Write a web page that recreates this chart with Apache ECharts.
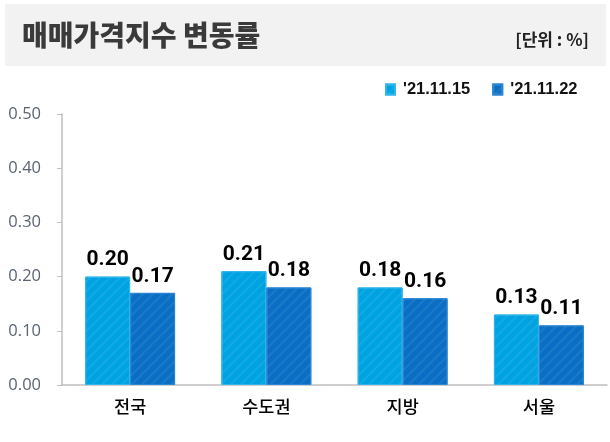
<!DOCTYPE html>
<html><head><meta charset="utf-8">
<script src="https://cdn.jsdelivr.net/npm/echarts@6/dist/echarts.min.js"></script>
<style>html,body{margin:0;padding:0;background:#fff}#c{width:610px;height:442px}</style>
</head><body><div id="c"></div>
<script>
const categories = ['전국', '수도권', '지방', '서울'];
const seriesNames = ["'21.11.15", "'21.11.22"];
const week1 = [0.20, 0.21, 0.18, 0.13];
const week2 = [0.17, 0.18, 0.16, 0.11];
const yTicks = [0, 0.1, 0.2, 0.3, 0.4, 0.5];

const chart = echarts.init(document.getElementById('c'));
const decal = {symbol: 'rect', symbolSize: 1, dashArrayX: [1, 0], dashArrayY: [2, 5], rotation: -Math.PI / 4, color: 'rgba(255,255,255,0.07)'};
const labelStyle = {show: true, position: 'top', distance: 6, color: '#000', fontFamily: 'Roboto, sans-serif', fontWeight: 'bold', fontSize: 21, formatter: p => p.value.toFixed(2)};
chart.setOption({
  animation: false,
  graphic: [{type: 'rect', shape: {x: 5, y: 4, width: 601, height: 62}, style: {fill: '#f2f2f2'}, z: -1}],
  title: [
    {text: '매매가격지수 변동률', left: 17, top: 16, textStyle: {fontFamily: 'Noto Sans CJK KR', fontWeight: 900, fontSize: 28, color: '#3a3a3a'}},
    {text: '[단위 : %]', right: 16, top: 26, textStyle: {fontFamily: 'Noto Sans CJK KR', fontWeight: 'bold', fontSize: 17, color: '#222'}}
  ],
  legend: {left: 380, top: 76, itemWidth: 9, itemHeight: 10, itemGap: 22, icon: 'rect',
    textStyle: {fontFamily: 'Liberation Sans, Arial, sans-serif', fontWeight: 'bold', fontSize: 16.5, color: '#111', padding: [0, 0, 0, 3]},
    data: seriesNames},
  grid: {left: 62, right: 3, top: 114, bottom: 57, containLabel: false},
  xAxis: {type: 'category', data: categories,
    axisLine: {lineStyle: {color: '#bfbfbf', width: 1.5}}, axisTick: {show: false},
    axisLabel: {margin: 13, fontFamily: 'Noto Sans CJK KR', fontWeight: 500, fontSize: 17.5, color: '#000'}},
  yAxis: {type: 'value', min: yTicks[0], max: yTicks[yTicks.length - 1], interval: 0.1,
    axisLine: {show: true, lineStyle: {color: '#bfbfbf', width: 1.5}},
    axisTick: {show: true, length: 5, lineStyle: {color: '#bfbfbf'}},
    splitLine: {show: false},
    axisLabel: {margin: 21, fontFamily: 'Open Sans, sans-serif', fontSize: 16.5, color: '#5a6472', formatter: v => v.toFixed(2)}},
  series: [
    {name: seriesNames[0], type: 'bar', data: week1, barGap: '0%', barCategoryGap: '34%',
      itemStyle: {color: '#00a3e2', borderColor: '#2fb4ec', borderWidth: 1, decal: decal}, label: labelStyle},
    {name: seriesNames[1], type: 'bar', data: week2,
      itemStyle: {color: '#0a6fc4', borderColor: '#2a86d4', borderWidth: 1, decal: decal}, label: labelStyle}
  ]
});
</script></body></html>
